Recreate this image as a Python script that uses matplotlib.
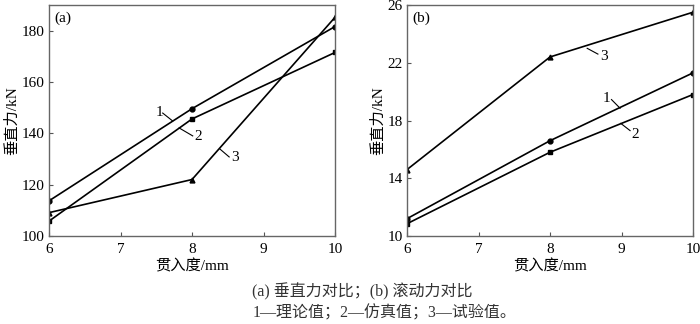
import matplotlib.pyplot as plt

plt.rcParams['font.family'] = ['Liberation Serif', 'Noto Sans CJK SC']
plt.rcParams['font.size'] = 11

depth = [6, 8, 10]

# (a) vertical force, kN
va_theory = [113.7, 149.6, 181.6]
va_sim = [105.8, 145.6, 171.5]
va_test = [109.1, 122.0, 185.2]

# (b) rolling force, kN
rb_theory = [11.2, 16.6, 21.3]
rb_sim = [10.85, 15.8, 19.8]
rb_test = [14.6, 22.4, 25.5]

fig = plt.figure(figsize=(7, 3.24), dpi=100)
ax1 = fig.add_axes([49/700, 1-236/324, 286/700, 231/324])
ax2 = fig.add_axes([407/700, 1-236/324, 286/700, 231/324])

def style(ax, ylim, yticks, tag):
    ax.set_xlim(6, 10)
    ax.set_ylim(*ylim)
    ax.set_xticks([6, 7, 8, 9, 10])
    ax.set_yticks(yticks)
    ax.tick_params(direction='in', length=3, width=0.8, color='#555555', pad=3)
    ax.tick_params(axis='x', pad=5)
    for s in ax.spines.values():
        s.set_color('#666666')
        s.set_linewidth(1.0)
    ax.set_xlabel('贯入度/mm', labelpad=2)
    ax.set_ylabel('垂直力/kN', labelpad=2)
    ax.text(0.02, 0.97, tag, transform=ax.transAxes, va='top', ha='left')

kw = dict(color='black', lw=1.2)
ax1.plot(depth, va_theory, marker='o', ms=3.5, **kw)
ax1.plot(depth, va_sim, marker='s', ms=3.5, **kw)
ax1.plot(depth, va_test, marker='^', ms=3.5, **kw)
style(ax1, (100, 190), [100, 120, 140, 160, 180], '(a)')

ax1.text(7.54, 148.0, '1', ha='center', va='center')
ax1.plot([7.59, 7.73], [147.9, 144.8], color='black', lw=0.8)
ax1.text(8.08, 138.8, '2', ha='center', va='center')
ax1.plot([7.82, 8.01], [142.1, 139.0], color='black', lw=0.8)
ax1.text(8.6, 130.6, '3', ha='center', va='center')
ax1.plot([8.39, 8.52], [133.9, 130.8], color='black', lw=0.8)

ax2.plot(depth, rb_theory, marker='o', ms=3.5, **kw)
ax2.plot(depth, rb_sim, marker='s', ms=3.5, **kw)
ax2.plot(depth, rb_test, marker='^', ms=3.5, **kw)
style(ax2, (10, 26), [10, 14, 18, 22, 26], '(b)')

ax2.text(8.75, 22.4, '3', ha='center', va='center')
ax2.plot([8.52, 8.67], [23.0, 22.6], color='black', lw=0.8)
ax2.text(8.79, 19.5, '1', ha='center', va='center')
ax2.plot([8.86, 8.98], [19.45, 18.85], color='black', lw=0.8)
ax2.text(9.19, 17.0, '2', ha='center', va='center')
ax2.plot([8.99, 9.12], [17.8, 17.3], color='black', lw=0.8)

fig.text(0.517, 1-292/324, '(a) 垂直力对比；(b) 滚动力对比', ha='center', va='center',
         fontsize=11.5, color='#333333')
fig.text(0.55, 1-313/324, '1—理论值；2—仿真值；3—试验值。', ha='center', va='center',
         fontsize=11.5, color='#333333')

fig.savefig('out.png', dpi=100)
